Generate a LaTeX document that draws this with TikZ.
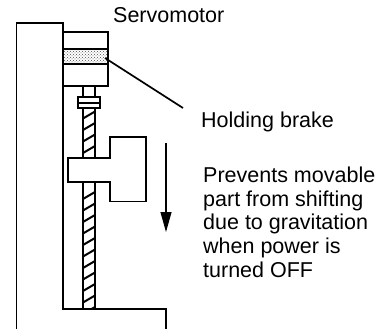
\documentclass[tikz,border=0pt]{standalone}
\usepackage{fontspec}
\setmainfont{Liberation Sans}
\usetikzlibrary{arrows.meta,patterns}
\tikzset{part/.style={line width=1.6pt},
  label/.style={inner sep=0pt,align=left,font=\fontsize{21.5}{23.8}\selectfont}}
\begin{document}
\begin{tikzpicture}[x=1pt,y=-1pt,>=Latex]
\useasboundingbox (0,0) rectangle (387,329);
\fill[white] (0,0) rectangle (387,329);
\draw[part] (16.5,329) -- (16.5,23) -- (63,23) -- (63,309) -- (166,309) -- (166,329);
\fill[pattern=crosshatch dots,pattern color=black!70] (63,49) rectangle (108,64);
\draw[part] (63,32) rectangle (108,86);
\draw[part] (63,49) -- (108,49);
\draw[part] (63,64) -- (108,64);
\draw[part] (83,86) -- (83,97);
\draw[part] (95,86) -- (95,97);
\draw[part] (78,97) rectangle (100,108);
\draw[part] (78,103) -- (100,103);
\draw[part] (83,108) -- (83,309);
\draw[part] (95,108) -- (95,309);
\begin{scope}
\clip (83,108) rectangle (95,309);
\foreach \y in {111.5,123,...,157.5,192,203.5,...,307}
  \draw[line width=2pt] (83,\y+7) -- (95,\y);
\end{scope}
\draw[part,fill=white] (68,182) -- (68,158) -- (110,158) -- (110,137) -- (146,137) -- (146,201.5) -- (110,201.5) -- (110,182) -- cycle;
\coordinate (brake) at (105,58);
\coordinate (brakeend) at (183,108);
\draw[line width=1.7pt] (brake) -- (brakeend);
\coordinate (down) at (166,143);
\coordinate (downend) at (166,232);
\draw[line width=1.1pt,-{Triangle[length=20pt,width=11pt]}] (down) -- (downend);
\node[label,anchor=base west] (motor) at (113,23) {Servomotor};
\node[label,anchor=base west] (holding) at (201,127) {Holding brake};
\node[label,anchor=north west] (prevents) at (203,166.5) {Prevents movable\\part from shifting\\due to gravitation\\when power is\\turned OFF};
\end{tikzpicture}
\end{document}
